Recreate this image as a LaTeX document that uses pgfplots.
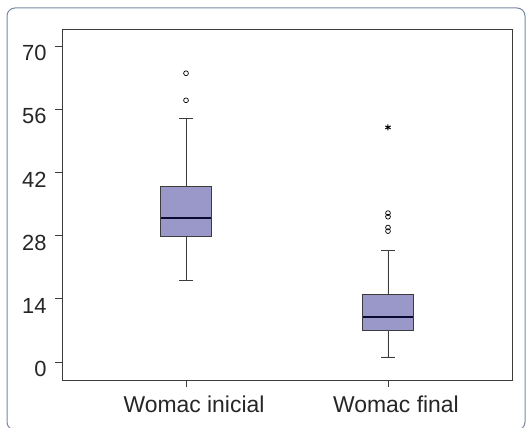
\documentclass[border=0pt]{standalone}
\usepackage{pgfplots}
\pgfplotsset{compat=1.18}
\usepgfplotslibrary{statistics}
\usepackage{fontspec}
\setmainfont{Liberation Sans}
\definecolor{boxfill}{RGB}{154,152,200}
\definecolor{framec}{RGB}{120,135,160}
\definecolor{axc}{RGB}{60,60,60}
\definecolor{medc}{RGB}{10,10,50}
\begin{document}
\begin{tikzpicture}
\useasboundingbox (0bp,0bp) rectangle (527bp,428bp);
\draw[framec, line width=1bp, rounded corners=8bp] (7bp,-2bp) rectangle (525bp,420bp);
\begin{axis}[
  at={(62bp,48bp)}, anchor=south west,
  scale only axis, width=450bp, height=350.5bp,
  xmin=0.386, xmax=2.614, ymin=-4, ymax=73.7,
  axis line style={axc, line width=1bp},
  xtick={1,2}, xticklabels={Womac inicial, Womac final},
  ytick={0,14,28,42,56,70},
  tick align=outside, tick pos=left,
  major tick length=7bp,
  tick style={axc, line width=0.8bp},
  /pgf/number format/assume math mode=true,
  yticklabel style={font=\fontsize{22}{22}\selectfont, text=black!85, xshift=-5bp, yshift=-7bp},
  xticklabel style={font=\fontsize{23}{23}\selectfont, text=black!85, xshift=8bp, yshift=-5bp},
  boxplot/draw direction=y,
  boxplot/box extend=0.25,
  boxplot/whisker extend=0.065,
]
\addplot[boxplot prepared={draw position=1, median=32, upper quartile=39, lower quartile=27.9, upper whisker=54, lower whisker=18},
  draw=axc, line width=0.9bp, fill=boxfill,
  mark=o, mark size=2.4bp, mark options={black, line width=0.7bp, fill=none},
  boxplot/every median/.style={draw=medc, line width=2bp}]
  coordinates {(0,64) (0,58)};
\addplot[boxplot prepared={draw position=2, median=10, upper quartile=14.9, lower quartile=7, upper whisker=24.8, lower whisker=1.1},
  draw=axc, line width=0.9bp, fill=boxfill,
  mark=o, mark size=2.4bp, mark options={black, line width=0.7bp, fill=none},
  boxplot/every median/.style={draw=medc, line width=2bp}]
  coordinates {(0,33) (0,32.2) (0,29.8) (0,29)};
\addplot[only marks, mark=asterisk, mark size=3bp, black, line width=1bp] coordinates {(2,52)};
\end{axis}
\end{tikzpicture}
\end{document}
